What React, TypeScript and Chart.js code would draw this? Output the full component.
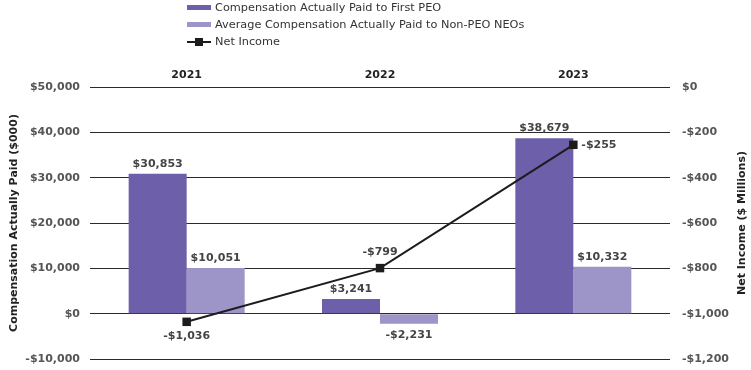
import React, { useEffect, useRef } from "react";
import { Chart, registerables } from "chart.js";

Chart.register(...registerables);

const years = ["2021", "2022", "2023"];
const firstPEO = [30853, 3241, 38679];
const nonPEO = [10051, -2231, 10332];
const netIncome = [-1036, -799, -255];
const netIncomeLabelPos = ["below", "above", "right"];

const leftTitle = "Compensation Actually Paid ($000)";
const rightTitle = "Net Income ($ Millions)";
const legendLabels = [
  "Compensation Actually Paid to First PEO",
  "Average Compensation Actually Paid to Non-PEO NEOs",
  "Net Income",
];

const PEO_COLOR = "#6d5fa9";
const NEO_COLOR = "#9d94c8";
const LINE_COLOR = "#1c1c1c";
const FONT = "'DejaVu Sans', sans-serif";

const fmt = (v: number) =>
  (v < 0 ? "-" : "") + "$" + Math.abs(v).toLocaleString("en-US");

const labelPlugin = {
  id: "labels",
  afterDatasetsDraw(chart: any) {
    const ctx = chart.ctx;
    ctx.save();
    ctx.font = `bold 11px ${FONT}`;
    ctx.fillStyle = "#444";
    ctx.textBaseline = "middle";
    ctx.textAlign = "center";
    [0, 1].forEach((di) => {
      const meta = chart.getDatasetMeta(di);
      const data = chart.data.datasets[di].data as number[];
      meta.data.forEach((el: any, i: number) => {
        const v = data[i];
        const y = v >= 0 ? el.y - 10 : el.y + 11;
        ctx.fillText(fmt(v), el.x, y);
      });
    });
    const lm = chart.getDatasetMeta(2);
    lm.data.forEach((el: any, i: number) => {
      const pos = netIncomeLabelPos[i];
      const txt = fmt(netIncome[i]);
      if (pos === "below") {
        ctx.textAlign = "center";
        ctx.fillText(txt, el.x, el.y + 14);
      } else if (pos === "above") {
        ctx.textAlign = "center";
        ctx.fillText(txt, el.x, el.y - 16);
      } else {
        ctx.textAlign = "left";
        ctx.fillText(txt, el.x + 8, el.y);
      }
    });
    // axis titles
    const ca = chart.chartArea;
    const cy = (ca.top + ca.bottom) / 2;
    ctx.font = `bold 11px ${FONT}`;
    ctx.fillStyle = "#222";
    ctx.textAlign = "center";
    ctx.save();
    ctx.translate(14, cy);
    ctx.rotate(-Math.PI / 2);
    ctx.fillText(leftTitle, 0, 0);
    ctx.restore();
    ctx.save();
    ctx.translate(742, cy);
    ctx.rotate(-Math.PI / 2);
    ctx.fillText(rightTitle, 0, 0);
    ctx.restore();
    ctx.restore();
  },
};

export default function App() {
  const ref = useRef<HTMLCanvasElement>(null);
  useEffect(() => {
    if (!ref.current) return;
    const chart = new Chart(ref.current, {
      type: "bar",
      data: {
        labels: years,
        datasets: [
          {
            label: legendLabels[0],
            data: firstPEO,
            backgroundColor: PEO_COLOR,
            yAxisID: "y",
            order: 2,
            categoryPercentage: 0.6,
            barPercentage: 1,
          },
          {
            label: legendLabels[1],
            data: nonPEO,
            backgroundColor: NEO_COLOR,
            yAxisID: "y",
            order: 2,
            categoryPercentage: 0.6,
            barPercentage: 1,
          },
          {
            type: "line",
            label: legendLabels[2],
            data: netIncome,
            borderColor: LINE_COLOR,
            backgroundColor: LINE_COLOR,
            borderWidth: 2,
            pointStyle: "rect",
            pointRadius: 6,
            pointBorderWidth: 0,
            yAxisID: "y1",
            order: 0,
          } as any,
        ],
      },
      options: {
        animation: false,
        responsive: false,
        maintainAspectRatio: false,
        layout: { padding: { top: 57, bottom: 11, left: 0, right: 0 } },
        plugins: { legend: { display: false }, tooltip: { enabled: false } },
        scales: {
          x: {
            position: "top",
            grid: { display: false },
            border: { display: false },
            ticks: { padding: -3, font: { family: FONT, size: 11, weight: "bold" }, color: "#222" },
            afterFit: (s: any) => {
              s.height = 30;
              s.paddingLeft = 0;
              s.paddingRight = 0;
            },
          },
          y: {
            position: "left",
            min: -10000,
            max: 50000,
            ticks: {
              stepSize: 10000,
              padding: 10,
              font: { family: FONT, size: 11, weight: "bold" },
              color: "#555",
              callback: (v: any) => fmt(Number(v)),
            },
            grid: { color: "#2a2a2a", lineWidth: 1, drawTicks: false },
            border: { display: false },
            afterFit: (s: any) => {
              s.width = 90;
              s.paddingTop = 0;
              s.paddingBottom = 0;
            },
          },
          y1: {
            position: "right",
            min: -1200,
            max: 0,
            ticks: {
              stepSize: 200,
              padding: 12,
              font: { family: FONT, size: 11, weight: "bold" },
              color: "#555",
              callback: (v: any) => fmt(Number(v)),
            },
            grid: { drawOnChartArea: false, drawTicks: false },
            border: { display: false },
            afterFit: (s: any) => {
              s.width = 81;
              s.paddingTop = 0;
              s.paddingBottom = 0;
            },
          },
        },
      } as any,
      plugins: [labelPlugin],
    });
    return () => chart.destroy();
  }, []);

  const rowStyle: React.CSSProperties = {
    display: "flex",
    alignItems: "center",
    height: 17,
    lineHeight: "17px",
    whiteSpace: "nowrap",
  };
  const textStyle: React.CSSProperties = {
    marginLeft: 4,
    fontFamily: FONT,
    fontSize: 11.3,
    color: "#333",
  };

  return (
    <div style={{ position: "fixed", left: 0, top: 0, width: 751, height: 370, background: "#fff" }}>
      <canvas ref={ref} width={751} height={370} style={{ position: "absolute", left: 0, top: 0, width: 751, height: 370 }} />
      <div style={{ position: "absolute", left: 187, top: -1 }}>
        <div style={rowStyle}>
          <span style={{ display: "inline-block", width: 24, height: 5, background: PEO_COLOR }} />
          <span style={textStyle}>{legendLabels[0]}</span>
        </div>
        <div style={rowStyle}>
          <span style={{ display: "inline-block", width: 24, height: 5, background: NEO_COLOR }} />
          <span style={textStyle}>{legendLabels[1]}</span>
        </div>
        <div style={rowStyle}>
          <span style={{ position: "relative", display: "inline-block", width: 24, height: 8 }}>
            <span style={{ position: "absolute", left: 0, top: 3, width: 24, height: 2, background: LINE_COLOR }} />
            <span style={{ position: "absolute", left: 8, top: 0, width: 8, height: 8, background: LINE_COLOR }} />
          </span>
          <span style={textStyle}>{legendLabels[2]}</span>
        </div>
      </div>
    </div>
  );
}
